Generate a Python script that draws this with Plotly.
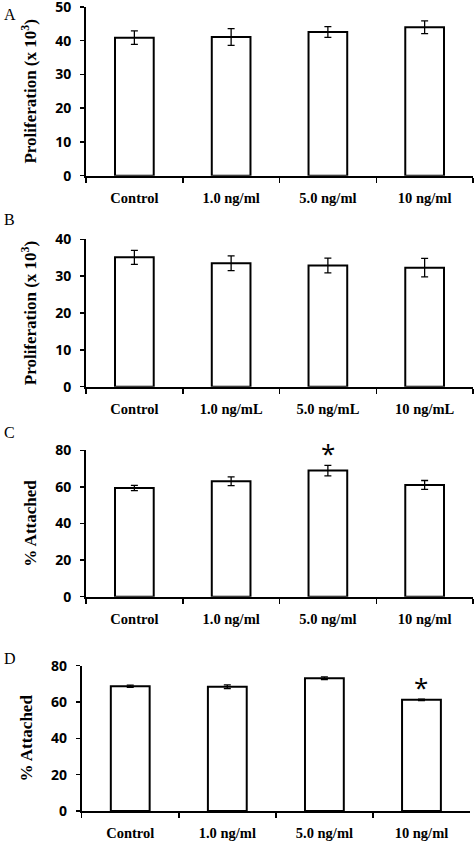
import plotly.graph_objects as go

# ---- data ----
cats_ml = ["Control", "1.0 ng/ml", "5.0 ng/ml", "10 ng/ml"]
cats_mL = ["Control", "1.0 ng/mL", "5.0 ng/mL", "10 ng/mL"]

prolif_a = [40.9, 41.1, 42.6, 44.0]
prolif_a_err = [2.0, 2.5, 1.6, 1.9]

prolif_b = [35.1, 33.5, 32.9, 32.3]
prolif_b_err = [1.9, 2.0, 2.0, 2.5]

attach_c = [59.4, 63.1, 68.9, 61.1]
attach_c_err = [1.4, 2.4, 2.9, 2.4]

attach_d = [68.7, 68.4, 73.1, 61.2]
attach_d_err = [0.6, 1.0, 0.8, 0.4]

sig_c = [False, False, True, False]
sig_d = [False, False, False, True]

panels = [
    dict(letter="A", cats=cats_ml, vals=prolif_a, err=prolif_a_err, sig=[False]*4,
         ymax=50, dtick=10, title="Proliferation (x 10<sup>3</sup>)"),
    dict(letter="B", cats=cats_mL, vals=prolif_b, err=prolif_b_err, sig=[False]*4,
         ymax=40, dtick=10, title="Proliferation (x 10<sup>3</sup>)"),
    dict(letter="C", cats=cats_ml, vals=attach_c, err=attach_c_err, sig=sig_c,
         ymax=80, dtick=20, title="% Attached"),
    dict(letter="D", cats=cats_ml, vals=attach_d, err=attach_d_err, sig=sig_d,
         ymax=80, dtick=20, title="% Attached"),
]

W, H = 475, 842
# pixel geometry: (x0, x1, y_zero, y_top)
geom = [
    (86, 473, 175.7, 7.0),
    (86, 473, 386.7, 239.3),
    (86, 473, 596.7, 450.3),
    (81.7, 470, 811, 665.7),
]
letter_pos = [(2, 14), (2, 220), (2, 432), (2, 658)]

SERIF = "Liberation Serif"
SANS = "Open Sans"

fig = go.Figure()
layout = dict(width=W, height=H, margin=dict(l=0, r=0, t=0, b=0),
              paper_bgcolor="white", plot_bgcolor="white", showlegend=False,
              annotations=[])

for i, p in enumerate(panels):
    n = "" if i == 0 else str(i + 1)
    x0, x1, yz, yt = geom[i]
    fig.add_trace(go.Bar(
        x=p["cats"], y=p["vals"], width=0.4,
        marker=dict(color="white", line=dict(color="black", width=2)),
        error_y=dict(type="data", array=p["err"], visible=True,
                     color="black", thickness=1.3, width=3.5),
        xaxis="x" + n, yaxis="y" + n,
    ))
    layout["xaxis" + n] = dict(
        domain=[x0 / W, x1 / W], anchor="y" + n, automargin=False,
        showline=True, linecolor="black", linewidth=2,
        ticks="outside", tickson="boundaries", ticklen=5, tickwidth=1.5, tickcolor="black",
        tickfont=dict(family=SERIF, size=14.5, color="black", weight="bold"),
        ticklabelstandoff=8, ticklabeloverflow="allow",
        showgrid=False, zeroline=False, fixedrange=True,
    )
    layout["yaxis" + n] = dict(
        domain=[1 - yz / H, 1 - yt / H], anchor="x" + n, automargin=False,
        range=[0, p["ymax"]], dtick=p["dtick"], tick0=0,
        showline=True, linecolor="black", linewidth=2,
        ticks="outside", ticklen=4, tickwidth=1.5, tickcolor="black",
        tickfont=dict(family=SANS, size=14, color="black", weight="bold"),
        ticklabelstandoff=6, ticklabeloverflow="allow",
        title=dict(text=p["title"], standoff=14,
                   font=dict(family=SERIF, size=17, color="black", weight="bold")),
        showgrid=False, zeroline=False, fixedrange=True,
    )
    lx, ly = letter_pos[i]
    layout["annotations"].append(dict(
        text=p["letter"], x=lx / W, y=1 - ly / H, xref="paper", yref="paper",
        xanchor="left", yanchor="middle", showarrow=False,
        font=dict(family=SERIF, size=16, color="black")))
    for c, v, e, s in zip(p["cats"], p["vals"], p["err"], p["sig"]):
        if s:
            layout["annotations"].append(dict(
                text="*", x=c, y=v + e, xref="x" + n, yref="y" + n,
                xanchor="center", yanchor="middle", yshift=12, showarrow=False,
                font=dict(family=SANS, size=26, color="black")))

fig.update_layout(**layout)
fig.write_html("out.html", config={"displayModeBar": False, "staticPlot": True},
               post_script="document.body.style.margin='0';document.body.style.overflow='hidden';")
